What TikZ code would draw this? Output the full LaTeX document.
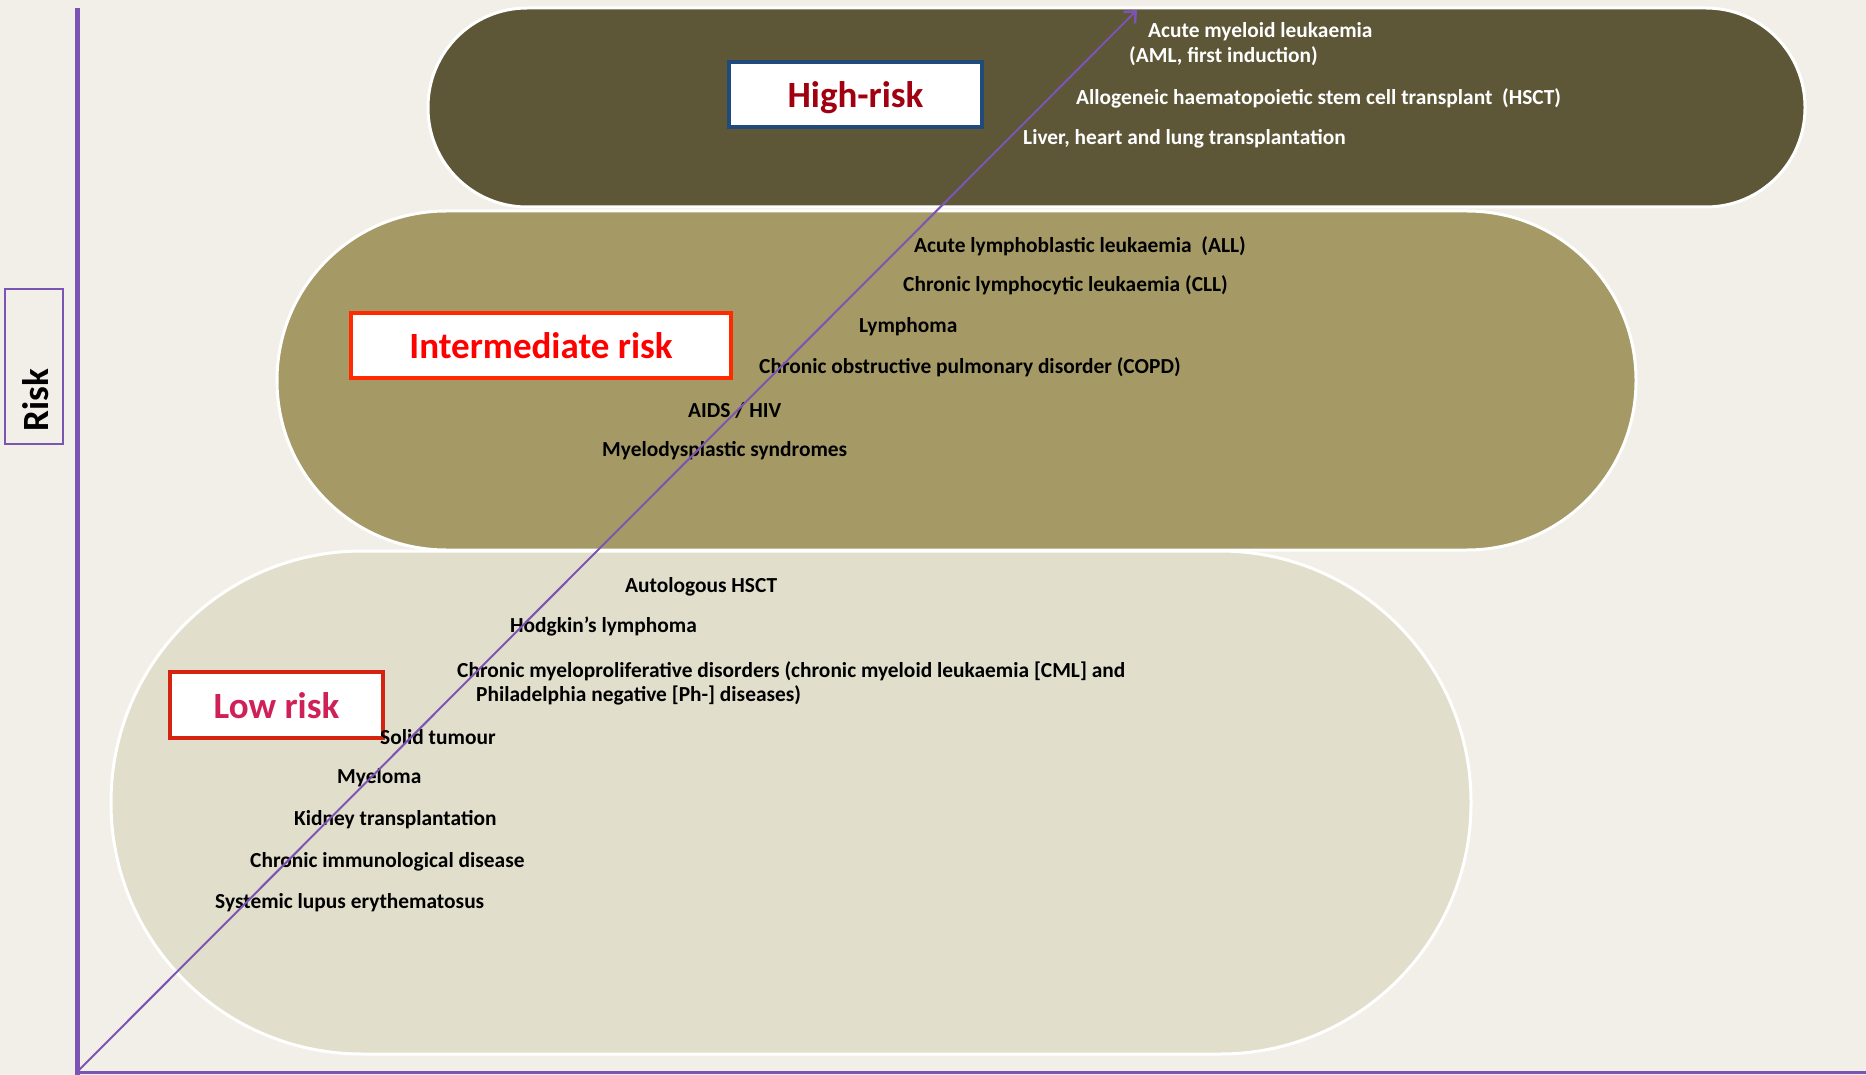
\documentclass[tikz,border=0pt]{standalone}
\usepackage{fontspec}
\setmainfont{Carlito}
\usetikzlibrary{arrows.meta}
\definecolor{bgc}{HTML}{F1EFE7}
\definecolor{highc}{HTML}{5D5738}
\definecolor{intc}{HTML}{A59A65}
\definecolor{lowc}{HTML}{E1DECB}
\definecolor{axc}{HTML}{7B55B3}
\definecolor{hbord}{HTML}{1F4A7A}
\definecolor{htext}{HTML}{A00010}
\definecolor{ibord}{HTML}{FF2A00}
\definecolor{itext}{HTML}{FF0000}
\definecolor{lbord}{HTML}{D42410}
\definecolor{ltext}{HTML}{D02058}
\tikzset{
  band/.style={draw=white, line width=3pt, inner sep=0pt},
  item/.style={anchor=west, inner sep=0pt, font=\fontsize{21.4}{24}\selectfont\bfseries, align=left},
  witem/.style={item, text=white},
  riskbox/.style={fill=white, line width=4.5pt, inner sep=0pt, text height=31pt, text depth=5pt, font=\fontsize{37}{40}\selectfont\bfseries},
}
\begin{document}
\begin{tikzpicture}[x=1pt,y=-1pt]
\fill[bgc] (0,0) rectangle (1866,1075);
\useasboundingbox (0,0) rectangle (1866,1075);
% bands
\node[band, fill=lowc, minimum width=1360pt, minimum height=503pt, rounded corners=251pt] (low) at (791,802.5) {};
\node[band, fill=intc, minimum width=1359pt, minimum height=339pt, rounded corners=169pt] (mid) at (956.5,380.5) {};
\node[band, fill=highc, minimum width=1377pt, minimum height=199pt, rounded corners=99pt] (high) at (1116.5,107.5) {};
% axes
\coordinate (O) at (77,1072);
\coordinate (T) at (77,8);
\coordinate (E) at (1866,1072);
\coordinate (A) at (1137,10);
\draw[axc, line width=5pt] (T) -- (77,1075);
\draw[axc, line width=3pt] (O) -- (E);
% Risk label
\node[draw=axc, line width=1.5pt, minimum width=58pt, minimum height=155pt, inner sep=0pt] (riskbox) at (34,366.5) {};
\node[rotate=90, font=\fontsize{37}{40}\selectfont\bfseries, inner sep=0pt] (risk) at (36,400) {Risk};
% category boxes
\node[riskbox, draw=hbord, text=htext, minimum width=253pt, minimum height=65pt] (hbox) at (855.5,94.5) {High-risk};
\node[riskbox, draw=ibord, text=itext, minimum width=380pt, minimum height=65pt] (ibox) at (541,345.5) {Intermediate risk};
\node[riskbox, draw=lbord, text=ltext, minimum width=213pt, minimum height=66pt] (lbox) at (276.5,705) {Low risk};
% high items
\node[witem] (h1) at (1148,32) {Acute myeloid leukaemia};
\node[witem] (h2) at (1129,56) {(AML, first induction)};
\node[witem] (h3) at (1076,98) {Allogeneic haematopoietic stem cell transplant\ \ (HSCT)};
\node[witem] (h4) at (1023,139) {Liver, heart and lung transplantation};
% intermediate items
\node[item] (m1) at (914,246) {Acute lymphoblastic leukaemia\ \ (ALL)};
\node[item] (m2) at (903,285) {Chronic lymphocytic leukaemia (CLL)};
\node[item] (m3) at (859,327) {Lymphoma};
\node[item] (m4) at (759,367) {Chronic obstructive pulmonary disorder (COPD)};
\node[item] (m5) at (688,410) {AIDS / HIV};
\node[item] (m6) at (602,451) {Myelodysplastic syndromes};
% low items
\node[item] (l1) at (625,587) {Autologous HSCT};
\node[item] (l2) at (510,627) {Hodgkin’s lymphoma};
\node[item] (l3) at (457,671) {Chronic myeloproliferative disorders (chronic myeloid leukaemia [CML] and};
\node[item] (l4) at (476,695) {Philadelphia negative [Ph-] diseases)};
\node[item] (l5) at (380,737) {Solid tumour};
\node[item] (l6) at (337,778) {Myeloma};
\node[item] (l7) at (294,820) {Kidney transplantation};
\node[item] (l8) at (250,862) {Chronic immunological disease};
\node[item] (l9) at (215,903) {Systemic lupus erythematosus};
% diagonal arrow
\draw[axc, line width=2pt, -{Straight Barb[length=9pt,width=16pt,line width=2.5pt]}] (O) -- (A);
\end{tikzpicture}
\end{document}
